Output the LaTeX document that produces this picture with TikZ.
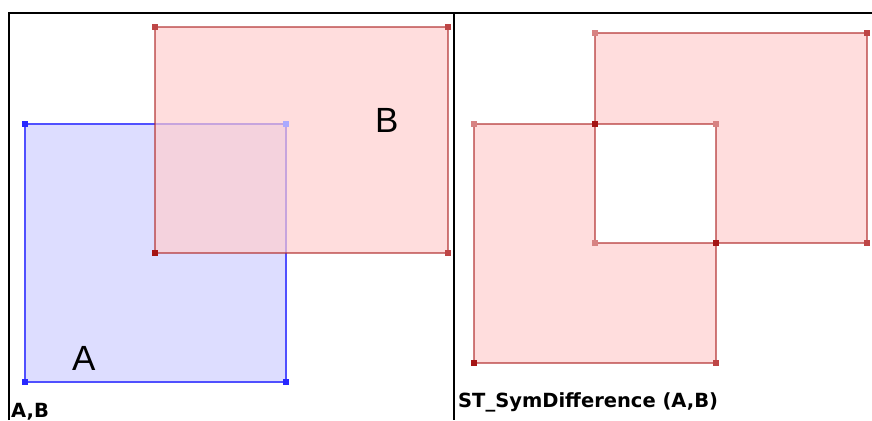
\documentclass[tikz,border=0pt]{standalone}
\usepackage{fontspec}
\setmainfont{DejaVu Sans}
\newfontfamily\shapefont{Liberation Sans}
\begin{document}
\begin{tikzpicture}[x=1pt,y=-1pt,
  frameline/.style={line width=2.6pt,black},
  bluefill/.style={fill={rgb,255:red,221;green,221;blue,255}},
  blueedge/.style={draw={rgb,255:red,80;green,80;blue,255},line width=1.5pt},
  redfill/.style={fill={rgb,255:red,255;green,205;blue,205},fill opacity=0.68},
  rededge/.style={draw={rgb,255:red,175;green,40;blue,40},draw opacity=0.6,line width=1.7pt},
  vtx/.style={minimum size=6.5pt,inner sep=0pt,outer sep=0pt,draw=none,rectangle},
  vblue/.style={vtx,fill={rgb,255:red,40;green,40;blue,255}},
  vbluel/.style={vtx,fill={rgb,255:red,170;green,170;blue,255}},
  vred/.style={vtx,fill={rgb,255:red,190;green,70;blue,70}},
  vredl/.style={vtx,fill={rgb,255:red,215;green,130;blue,130}},
  vredd/.style={vtx,fill={rgb,255:red,165;green,20;blue,20}},
  shapelabel/.style={font=\shapefont\fontsize{35}{40}\selectfont,inner sep=0pt,anchor=base west},
  caption/.style={font=\bfseries\fontsize{19.5}{22}\selectfont,inner sep=0pt,anchor=base west}]
\useasboundingbox (0,0) rectangle (872,420);

% left panel: polygons A and B
\path[bluefill] (25,124) rectangle (286,382);
\path[blueedge] (25,124) rectangle (286,382);
\path[redfill] (155,27) rectangle (448,253);
\path[rededge] (155,27) rectangle (448,253);

\node[vblue]  (a1) at (25,124) {};
\node[vbluel] (a2) at (286,124) {};
\node[vblue]  (a3) at (286,382) {};
\node[vblue]  (a4) at (25,382) {};
\node[vred]   (b1) at (155,27) {};
\node[vred]   (b2) at (448,27) {};
\node[vred]   (b3) at (448,253) {};
\node[vredd]  (b4) at (155,253) {};

\node[shapelabel] (la) at (72,370) {A};
\node[shapelabel] (lb) at (375,132) {B};

% right panel: symmetric difference
\path[redfill,even odd rule] (595,33) rectangle (867,243) (474,124) rectangle (716,363);
\path[rededge] (595,33) rectangle (867,243);
\path[rededge] (474,124) rectangle (716,363);

\node[vredl] (s1) at (474,124) {};
\node[vredd] (s2) at (595,124) {};
\node[vredl] (s3) at (595,33) {};
\node[vred]  (s4) at (867,33) {};
\node[vred]  (s5) at (867,243) {};
\node[vredd] (s6) at (716,243) {};
\node[vred]  (s7) at (716,363) {};
\node[vredd] (s8) at (474,363) {};
\node[vredl] (s9) at (716,124) {};
\node[vredl] (s10) at (595,243) {};

% captions
\node[caption] (c1) at (11,417) {A,B};
\node[caption] (c2) at (458,407) {ST\_SymDifference (A,B)};

% table frame
\draw[frameline] (9,420) -- (9,13) -- (872,13);
\draw[frameline] (454,13) -- (454,420);
\end{tikzpicture}
\end{document}
